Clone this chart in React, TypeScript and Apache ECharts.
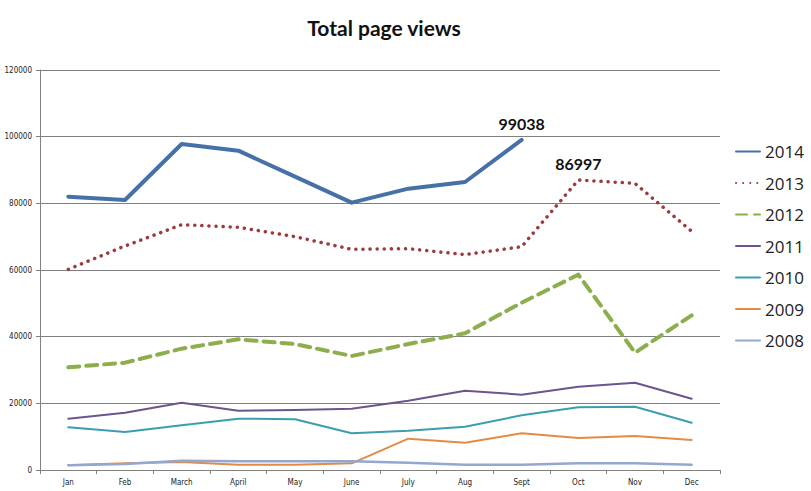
import React, { useEffect, useRef } from "react";
import * as echarts from "echarts";

const months = ["Jan", "Feb", "March", "April", "May", "June", "July", "Aug", "Sept", "Oct", "Nov", "Dec"];
const yearNames = ["2014", "2013", "2012", "2011", "2010", "2009", "2008"];

const v2014 = [82000, 81000, 97800, 95800, 88000, 80200, 84400, 86400, 99038, null, null, null];
const v2013 = [60200, 67200, 73600, 72800, 70000, 66200, 66400, 64600, 67000, 86997, 86000, 71600];
const v2012 = [30800, 32200, 36400, 39200, 37800, 34200, 37800, 41000, 50200, 58600, 35200, 46400];
const v2011 = [15400, 17200, 20200, 17800, 18000, 18400, 20800, 23800, 22600, 25000, 26200, 21400];
const v2010 = [12800, 11400, 13400, 15400, 15200, 11000, 11800, 13000, 16400, 18800, 19000, 14200];
const v2009 = [1400, 2000, 2400, 1600, 1600, 2000, 9400, 8200, 11000, 9600, 10200, 9000];
const v2008 = [1400, 1800, 2800, 2600, 2600, 2600, 2200, 1600, 1600, 2000, 2000, 1600];

const yMin = 0;
const yMax = 120000;
const yStep = 20000;

const labelIndex2014 = 8;
const labelIndex2013 = 9;

export default function App() {
  const ref = useRef<HTMLDivElement>(null);
  useEffect(() => {
    if (!ref.current) return;
    const chart = echarts.init(ref.current, undefined, { renderer: "svg" });
    const labelFont = "Lato, 'Open Sans', sans-serif";
    const mkMark = (arr: (number | null)[], idx: number) => ({
      symbol: "circle",
      symbolSize: 1,
      itemStyle: { color: "rgba(0,0,0,0)" },
      label: {
        show: true,
        position: "top",
        distance: 8,
        fontSize: 16,
        fontWeight: "bold",
        color: "#111",
        fontFamily: labelFont,
        formatter: (p: any) => String(p.value),
      },
      data: [{ coord: [idx, arr[idx]], value: arr[idx] }],
    });
    const seriesDefs = [
      { name: yearNames[0], data: v2014, color: "#4670a8", width: 4, type: "solid", mark: mkMark(v2014, labelIndex2014) },
      { name: yearNames[1], data: v2013, color: "#9c3a3c", width: 3.5, type: [0.1, 7], mark: mkMark(v2013, labelIndex2013) },
      { name: yearNames[2], data: v2012, color: "#8cae4c", width: 4, type: [11, 7], mark: undefined },
      { name: yearNames[3], data: v2011, color: "#6a558e", width: 2, type: "solid", mark: undefined },
      { name: yearNames[4], data: v2010, color: "#3b9eb0", width: 2, type: "solid", mark: undefined },
      { name: yearNames[5], data: v2009, color: "#e38b45", width: 2, type: "solid", mark: undefined },
      { name: yearNames[6], data: v2008, color: "#93a7cf", width: 2.5, type: "solid", mark: undefined },
    ];
    chart.setOption({
      animation: false,
      backgroundColor: "#ffffff",
      title: {
        text: "Total page views",
        left: 379,
        top: 12,
        textAlign: "center",
        textStyle: { fontSize: 21, fontWeight: "bold", color: "#111", fontFamily: labelFont },
      },
      legend: {
        orient: "vertical",
        left: 735,
        top: 143,
        padding: 0,
        itemWidth: 24,
        itemHeight: 14,
        itemGap: 14.5,
        itemStyle: { opacity: 0 },
        textStyle: { fontSize: 17, color: "#222", fontFamily: "'Open Sans', Lato, sans-serif" },
        data: yearNames,
      },
      grid: { left: 40, right: 91, top: 70, bottom: 21, containLabel: false },
      xAxis: {
        type: "category",
        data: months,
        boundaryGap: true,
        axisLine: { lineStyle: { color: "#808080", width: 1 } },
        axisTick: { show: true, length: 4, lineStyle: { color: "#808080" } },
        axisLabel: { fontSize: 8, color: "#222", margin: 8, fontFamily: "'DejaVu Sans Condensed', 'Liberation Sans', sans-serif" },
      },
      yAxis: {
        type: "value",
        min: yMin,
        max: yMax,
        interval: yStep,
        axisLine: { show: true, lineStyle: { color: "#808080", width: 1 } },
        axisTick: { show: true, length: 4, lineStyle: { color: "#808080" } },
        axisLabel: {
          fontSize: 8,
          color: "#222",
          margin: 8,
          formatter: (v: number) => String(v),
          fontFamily: "'DejaVu Sans Condensed', 'Liberation Sans', sans-serif",
        },
        splitLine: { lineStyle: { color: "#808080", width: 1 } },
      },
      series: seriesDefs.map((s) => ({
        name: s.name,
        type: "line",
        data: s.data,
        symbol: "none",
        connectNulls: false,
        color: s.color,
        lineStyle: { color: s.color, width: s.width, type: s.type, cap: "round", join: "round" },
        itemStyle: { color: s.color },
        ...(s.mark ? { markPoint: s.mark } : {}),
      })),
    });
    return () => chart.dispose();
  }, []);
  return <div ref={ref} style={{ width: 811, height: 491, position: "fixed", left: 0, top: 0 }} />;
}
